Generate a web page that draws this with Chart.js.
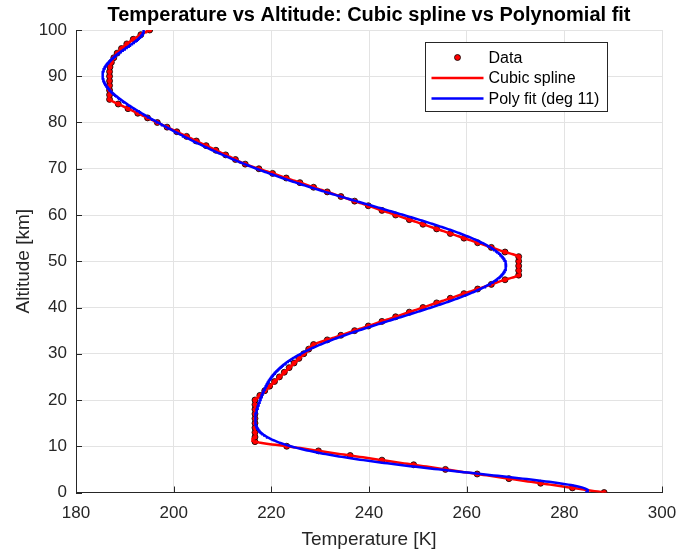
<!DOCTYPE html>
<html>
<head>
<meta charset="utf-8">
<script src="https://cdn.jsdelivr.net/npm/chart.js@4/dist/chart.umd.min.js"></script>
<style>
  html, body { margin: 0; padding: 0; background: #fff; }
  #wrap { width: 678px; height: 553px; }
</style>
</head>
<body>
<div id="wrap"><canvas id="c" width="678" height="553"></canvas></div>
<script>
// Standard-atmosphere temperature profile, one sample per kilometre
const altitudeKm = [
  0, 1, 2, 3, 4, 5, 6, 7, 8, 9, 10,
  11, 12, 13, 14, 15, 16, 17, 18, 19, 20,
  21, 22, 23, 24, 25, 26, 27, 28, 29, 30,
  31, 32, 33, 34, 35, 36, 37, 38, 39, 40,
  41, 42, 43, 44, 45, 46, 47, 48, 49, 50,
  51, 52, 53, 54, 55, 56, 57, 58, 59, 60,
  61, 62, 63, 64, 65, 66, 67, 68, 69, 70,
  71, 72, 73, 74, 75, 76, 77, 78, 79, 80,
  81, 82, 83, 84, 85, 86, 87, 88, 89, 90,
  91, 92, 93, 94, 95, 96, 97, 98, 99, 100
];
const temperatureK = [
  288.15, 281.65, 275.15, 268.65, 262.15, 255.65, 249.15, 242.65, 236.15, 229.65, 223.15,
  216.65, 216.65, 216.65, 216.65, 216.65, 216.65, 216.65, 216.65, 216.65, 216.65,
  217.65, 218.65, 219.65, 220.65, 221.65, 222.65, 223.65, 224.65, 225.65, 226.65,
  227.65, 228.65, 231.45, 234.25, 237.05, 239.85, 242.65, 245.45, 248.25, 251.05,
  253.85, 256.65, 259.45, 262.25, 265.05, 267.85, 270.65, 270.65, 270.65, 270.65,
  270.65, 267.85, 265.05, 262.25, 259.45, 256.65, 253.85, 251.05, 248.25, 245.45,
  242.65, 239.85, 237.05, 234.25, 231.45, 228.65, 225.85, 223.05, 220.25, 217.45,
  214.65, 212.65, 210.65, 208.65, 206.65, 204.65, 202.65, 200.65, 198.65, 196.65,
  194.65, 192.65, 190.65, 188.65, 186.87, 186.87, 186.87, 186.87, 186.87, 186.87,
  186.87, 186.96, 187.25, 187.74, 188.42, 189.31, 190.40, 191.72, 193.28, 195.08
];
const temperatureTicks = [180, 200, 220, 240, 260, 280, 300];
const altitudeTicks = [0, 10, 20, 30, 40, 50, 60, 70, 80, 90, 100];
const seriesLabels = ['Data', 'Cubic spline', 'Poly fit (deg 11)'];
const polyDegree = 11;

const FONT = '"Liberation Sans", Arial, Helvetica, sans-serif';
const AXIS_COLOR = '#262626';

// Cubic spline T(z) with not-a-knot end conditions (uniform knot spacing)
function makeSpline(xs, ys) {
  const n = xs.length - 1;
  const h = xs[1] - xs[0];
  const m = n - 1;
  const A = new Array(m).fill(1), B = new Array(m).fill(4), C = new Array(m).fill(1), D = new Array(m);
  for (let k = 0; k < m; k++) {
    const i = k + 1;
    D[k] = 6 * (ys[i - 1] - 2 * ys[i] + ys[i + 1]) / (h * h);
  }
  A[0] = 0; B[0] = 6; C[0] = 0;
  A[m - 1] = 0; B[m - 1] = 6; C[m - 1] = 0;
  for (let k = 1; k < m; k++) {
    const w = A[k] / B[k - 1];
    B[k] -= w * C[k - 1];
    D[k] -= w * D[k - 1];
  }
  const inner = new Array(m);
  inner[m - 1] = D[m - 1] / B[m - 1];
  for (let k = m - 2; k >= 0; k--) inner[k] = (D[k] - C[k] * inner[k + 1]) / B[k];
  const M = [2 * inner[0] - inner[1], ...inner, 2 * inner[m - 1] - inner[m - 2]];
  return z => {
    const i = Math.min(n - 1, Math.max(0, Math.floor((z - xs[0]) / h)));
    const t = z - xs[i];
    const b = (ys[i + 1] - ys[i]) / h - h * (2 * M[i] + M[i + 1]) / 6;
    return ys[i] + b * t + M[i] / 2 * t * t + (M[i + 1] - M[i]) / (6 * h) * t * t * t;
  };
}

// Least-squares polynomial T(z), solved by QR on a centred/scaled variable
function makePolyFit(xs, ys, deg) {
  const N = xs.length;
  const mu = xs.reduce((s, v) => s + v, 0) / N;
  const sc = Math.max(...xs.map(v => Math.abs(v - mu)));
  const u = xs.map(v => (v - mu) / sc);
  const cols = [];
  for (let j = 0; j <= deg; j++) cols.push(u.map(v => Math.pow(v, j)));
  const Q = [], R = Array.from({ length: deg + 1 }, () => new Array(deg + 1).fill(0));
  for (let j = 0; j <= deg; j++) {
    let v = cols[j].slice();
    for (let pass = 0; pass < 2; pass++) {
      for (let i = 0; i < j; i++) {
        let dot = 0;
        for (let k = 0; k < N; k++) dot += Q[i][k] * v[k];
        R[i][j] += dot;
        for (let k = 0; k < N; k++) v[k] -= dot * Q[i][k];
      }
    }
    const nrm = Math.sqrt(v.reduce((s, a) => s + a * a, 0));
    R[j][j] = nrm;
    Q.push(v.map(a => a / nrm));
  }
  const qty = Q.map(q => q.reduce((s, a, k) => s + a * ys[k], 0));
  const c = new Array(deg + 1).fill(0);
  for (let i = deg; i >= 0; i--) {
    let s = qty[i];
    for (let j = i + 1; j <= deg; j++) s -= R[i][j] * c[j];
    c[i] = s / R[i][i];
  }
  return z => {
    const x = (z - mu) / sc;
    let p = 0;
    for (let i = deg; i >= 0; i--) p = p * x + c[i];
    return p;
  };
}

const spline = makeSpline(altitudeKm, temperatureK);
const poly = makePolyFit(altitudeKm, temperatureK, polyDegree);

const zFine = [];
for (let k = 0; k <= 1000; k++) zFine.push(altitudeKm[0] + (altitudeKm[altitudeKm.length - 1] - altitudeKm[0]) * k / 1000);

const dataPoints = altitudeKm.map((z, i) => ({ x: temperatureK[i], y: z }));
const splinePoints = zFine.map(z => ({ x: spline(z), y: z }));
const polyPoints = zFine.map(z => ({ x: poly(z), y: z }));

// Inward tick marks on the left and bottom axes
const inwardTicks = {
  id: 'inwardTicks',
  afterDatasetsDraw(chart) {
    const { ctx, chartArea: a, scales: { x, y } } = chart;
    ctx.save();
    ctx.strokeStyle = AXIS_COLOR;
    ctx.lineWidth = 1;
    ctx.beginPath();
    temperatureTicks.forEach(v => {
      const px = Math.round(x.getPixelForValue(v)) + 0.5;
      ctx.moveTo(px, a.bottom); ctx.lineTo(px, a.bottom - 6);
    });
    altitudeTicks.forEach(v => {
      const py = Math.round(y.getPixelForValue(v)) + 0.5;
      ctx.moveTo(a.left, py); ctx.lineTo(a.left + 6, py);
    });
    ctx.stroke();
    ctx.restore();
  }
};

// Boxed legend in the upper-right corner of the plot area
const cornerLegend = {
  id: 'cornerLegend',
  afterDraw(chart) {
    const { ctx, chartArea: a } = chart;
    const w = 182, h = 69;
    const left = Math.round(a.right - 55 - w) + 0.5;
    const top = Math.round(a.top + 12) + 0.5;
    ctx.save();
    ctx.fillStyle = '#fff';
    ctx.fillRect(left, top, w, h);
    ctx.strokeStyle = AXIS_COLOR;
    ctx.lineWidth = 1;
    ctx.strokeRect(left, top, w, h);
    const rows = [top + 15, top + 35.5, top + 56];
    const ds = chart.data.datasets;
    ctx.font = '16px ' + FONT;
    ctx.textBaseline = 'middle';
    ctx.textAlign = 'left';
    ds.forEach((d, i) => {
      const ry = rows[i];
      if (d.showLine) {
        ctx.strokeStyle = d.borderColor;
        ctx.lineWidth = d.borderWidth;
        ctx.beginPath();
        ctx.moveTo(left + 6, ry); ctx.lineTo(left + 58, ry);
        ctx.stroke();
      } else {
        ctx.beginPath();
        ctx.arc(left + 32, ry, d.pointRadius, 0, Math.PI * 2);
        ctx.fillStyle = d.backgroundColor;
        ctx.fill();
        ctx.strokeStyle = d.borderColor;
        ctx.lineWidth = d.borderWidth;
        ctx.stroke();
      }
      ctx.fillStyle = '#000';
      ctx.fillText(d.label, left + 63, ry + 1);
    });
    ctx.restore();
  }
};

new Chart(document.getElementById('c'), {
  type: 'scatter',
  data: {
    datasets: [
      {
        label: seriesLabels[0],
        data: dataPoints,
        showLine: false,
        pointRadius: 3,
        pointHoverRadius: 3,
        backgroundColor: '#ff0000',
        borderColor: '#000000',
        borderWidth: 0.8,
        order: 3
      },
      {
        label: seriesLabels[1],
        data: splinePoints,
        showLine: true,
        pointRadius: 0,
        borderColor: '#ff0000',
        backgroundColor: '#ff0000',
        borderWidth: 2.5,
        tension: 0,
        order: 2
      },
      {
        label: seriesLabels[2],
        data: polyPoints,
        showLine: true,
        pointRadius: 0,
        borderColor: '#0000ff',
        backgroundColor: '#0000ff',
        borderWidth: 2.5,
        tension: 0,
        order: 1
      }
    ]
  },
  options: {
    responsive: false,
    animation: false,
    devicePixelRatio: 1,
    layout: { padding: { left: 0, right: 16, top: 0, bottom: 0 } },
    plugins: {
      legend: { display: false },
      tooltip: { enabled: false },
      title: {
        display: true,
        text: 'Temperature vs Altitude: Cubic spline vs Polynomial fit',
        color: '#000',
        font: { family: FONT, size: 20, weight: 'bold' },
        padding: { top: 3, bottom: 3 },
        fullSize: false
      }
    },
    scales: {
      x: {
        type: 'linear',
        min: temperatureTicks[0],
        max: temperatureTicks[temperatureTicks.length - 1],
        afterBuildTicks: s => { s.ticks = temperatureTicks.map(v => ({ value: v })); },
        afterFit: s => { s.height = 60.5; s.paddingLeft = 0; s.paddingRight = 0; },
        grid: { color: '#e3e3e3', drawTicks: false, lineWidth: 1 },
        border: { display: true, color: AXIS_COLOR, width: 1 },
        ticks: { color: AXIS_COLOR, font: { family: FONT, size: 17 }, padding: 11, maxRotation: 0 },
        title: {
          display: true,
          text: 'Temperature [K]',
          color: AXIS_COLOR,
          font: { family: FONT, size: 19 },
          padding: { top: 0, bottom: 2 }
        }
      },
      y: {
        type: 'linear',
        min: altitudeTicks[0],
        max: altitudeTicks[altitudeTicks.length - 1],
        afterBuildTicks: s => { s.ticks = altitudeTicks.map(v => ({ value: v })); },
        afterFit: s => { s.width = 76; s.paddingTop = 0; s.paddingBottom = 0; },
        grid: { color: '#e3e3e3', drawTicks: false, lineWidth: 1 },
        border: { display: true, color: AXIS_COLOR, width: 1 },
        ticks: { color: AXIS_COLOR, font: { family: FONT, size: 17 }, padding: 9 },
        title: {
          display: true,
          text: 'Altitude [km]',
          color: AXIS_COLOR,
          font: { family: FONT, size: 19 },
          padding: { top: 12, bottom: 0 }
        }
      }
    }
  },
  plugins: [inwardTicks, cornerLegend]
});
</script>
</body>
</html>
